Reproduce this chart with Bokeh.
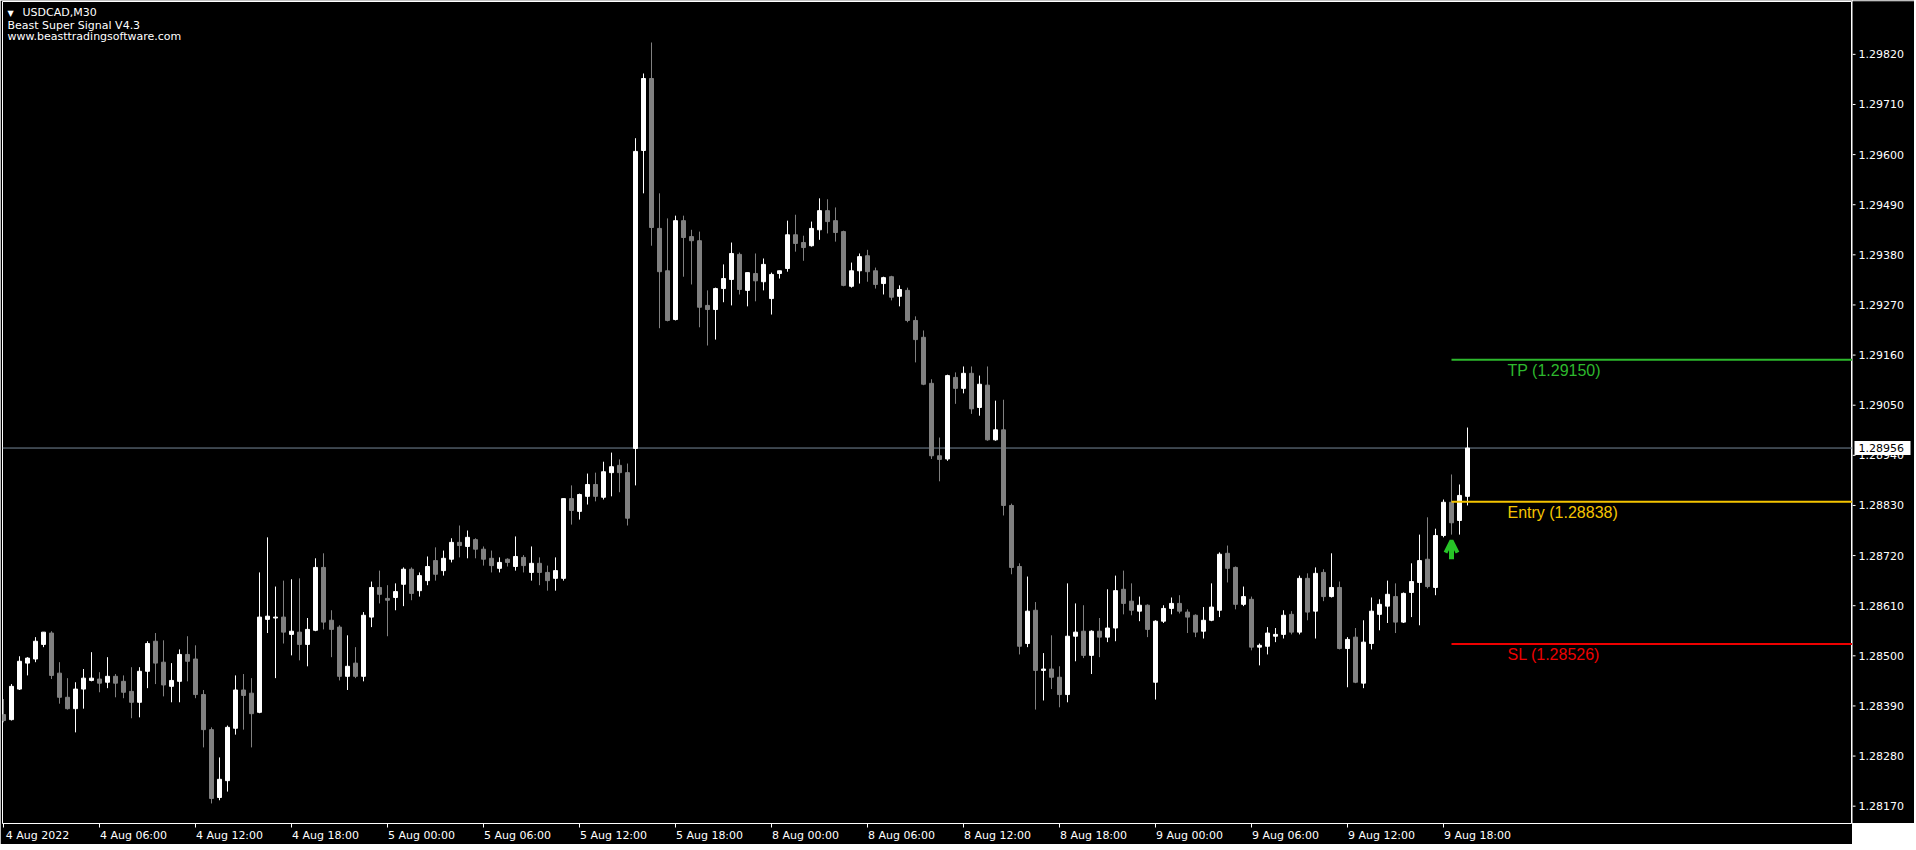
from bokeh.plotting import figure
from bokeh.layouts import row
from bokeh.models import (ColumnDataSource, Range1d, LinearAxis, FixedTicker,
                          Span, Arrow, OpenHead)
from bokeh.core.properties import value
from bokeh.embed import file_html
from bokeh.resources import INLINE

# ---------------- data ----------------
symbol_title = "USDCAD,M30"
indicator_name = "Beast Super Signal V4.3"
website = "www.beasttradingsoftware.com"

opens = [1.28371, 1.28360, 1.28427, 1.28484, 1.28493, 1.28525, 1.28550, 1.28462, 1.28409, 1.28384,
         1.28427, 1.28446, 1.28449, 1.28442, 1.28455, 1.28444, 1.28422, 1.28398, 1.28466, 1.28532,
         1.28486, 1.28433, 1.28444, 1.28503, 1.28493, 1.28415, 1.28338, 1.28189, 1.28226, 1.28341,
         1.28425, 1.28418, 1.28376, 1.28580, 1.28583, 1.28585, 1.28547, 1.28552, 1.28525, 1.28556,
         1.28694, 1.28578, 1.28563, 1.28455, 1.28484, 1.28455, 1.28585, 1.28650, 1.28626, 1.28628,
         1.28657, 1.28690, 1.28643, 1.28665, 1.28709, 1.28687, 1.28712, 1.28749, 1.28740, 1.28755,
         1.28734, 1.28714, 1.28692, 1.28712, 1.28696, 1.28716, 1.28683, 1.28703, 1.28683, 1.28670,
         1.28670, 1.28845, 1.28817, 1.28850, 1.28876, 1.28848, 1.28902, 1.28918, 1.28902, 1.28955,
         1.29609, 1.29767, 1.29438, 1.29345, 1.29238, 1.29455, 1.29420, 1.29411, 1.29269, 1.29260,
         1.29306, 1.29326, 1.29381, 1.29302, 1.29339, 1.29321, 1.29284, 1.29339, 1.29350, 1.29424,
         1.29407, 1.29400, 1.29435, 1.29477, 1.29455, 1.29431, 1.29311, 1.29345, 1.29378, 1.29345,
         1.29317, 1.29332, 1.29289, 1.29302, 1.29236, 1.29199, 1.29098, 1.28939, 1.28932, 1.29111,
         1.29087, 1.29120, 1.29045, 1.29094, 1.28974, 1.28996, 1.28830, 1.28696, 1.28527, 1.28600,
         1.28468, 1.28471, 1.28453, 1.28415, 1.28543, 1.28554, 1.28501, 1.28554, 1.28541, 1.28561,
         1.28646, 1.28620, 1.28598, 1.28611, 1.28442, 1.28576, 1.28604, 1.28615, 1.28596, 1.28589,
         1.28554, 1.28578, 1.28600, 1.28725, 1.28694, 1.28613, 1.28624, 1.28519, 1.28521, 1.28543,
         1.28547, 1.28591, 1.28552, 1.28670, 1.28598, 1.28683, 1.28630, 1.28650, 1.28516, 1.28541,
         1.28440, 1.28527, 1.28591, 1.28609, 1.28630, 1.28574, 1.28639, 1.28661, 1.28712, 1.28650,
         1.28764, 1.28837, 1.28797, 1.28850]
highs = [1.28405, 1.28438, 1.28499, 1.28497, 1.28541, 1.28552, 1.28554, 1.28486, 1.28451, 1.28442,
         1.28471, 1.28508, 1.28464, 1.28497, 1.28460, 1.28457, 1.28475, 1.28475, 1.28532, 1.28550,
         1.28534, 1.28484, 1.28514, 1.28543, 1.28523, 1.28425, 1.28343, 1.28277, 1.28347, 1.28457,
         1.28460, 1.28451, 1.28683, 1.28760, 1.28652, 1.28665, 1.28668, 1.28670, 1.28583, 1.28714,
         1.28725, 1.28600, 1.28567, 1.28545, 1.28519, 1.28596, 1.28663, 1.28687, 1.28655, 1.28659,
         1.28694, 1.28694, 1.28683, 1.28718, 1.28738, 1.28731, 1.28758, 1.28786, 1.28775, 1.28758,
         1.28740, 1.28731, 1.28716, 1.28714, 1.28762, 1.28721, 1.28740, 1.28716, 1.28698, 1.28716,
         1.28845, 1.28874, 1.28856, 1.28900, 1.28902, 1.28926, 1.28946, 1.28931, 1.28922, 1.29636,
         1.29778, 1.29846, 1.29515, 1.29460, 1.29466, 1.29466, 1.29435, 1.29431, 1.29302, 1.29308,
         1.29359, 1.29407, 1.29385, 1.29341, 1.29383, 1.29372, 1.29341, 1.29345, 1.29455, 1.29468,
         1.29422, 1.29453, 1.29504, 1.29502, 1.29484, 1.29433, 1.29363, 1.29383, 1.29391, 1.29352,
         1.29332, 1.29334, 1.29313, 1.29308, 1.29245, 1.29214, 1.29107, 1.28979, 1.29117, 1.29122,
         1.29135, 1.29135, 1.29115, 1.29135, 1.29060, 1.29062, 1.28834, 1.28703, 1.28674, 1.28618,
         1.28506, 1.28545, 1.28477, 1.28659, 1.28615, 1.28611, 1.28556, 1.28583, 1.28646, 1.28676,
         1.28687, 1.28659, 1.28630, 1.28613, 1.28578, 1.28611, 1.28628, 1.28633, 1.28602, 1.28591,
         1.28607, 1.28659, 1.28727, 1.28742, 1.28696, 1.28652, 1.28630, 1.28527, 1.28563, 1.28561,
         1.28600, 1.28598, 1.28676, 1.28681, 1.28694, 1.28690, 1.28725, 1.28663, 1.28541, 1.28561,
         1.28578, 1.28628, 1.28624, 1.28665, 1.28659, 1.28639, 1.28703, 1.28766, 1.28804, 1.28779,
         1.28843, 1.28898, 1.28876, 1.29001]
lows = [1.28354, 1.28358, 1.28425, 1.28457, 1.28486, 1.28519, 1.28449, 1.28395, 1.28382, 1.28332,
        1.28384, 1.28444, 1.28420, 1.28429, 1.28409, 1.28407, 1.28363, 1.28365, 1.28429, 1.28438,
        1.28411, 1.28398, 1.28398, 1.28444, 1.28407, 1.28299, 1.28176, 1.28183, 1.28202, 1.28327,
        1.28338, 1.28299, 1.28374, 1.28550, 1.28451, 1.28527, 1.28501, 1.28490, 1.28477, 1.28554,
        1.28558, 1.28497, 1.28446, 1.28425, 1.28451, 1.28444, 1.28563, 1.28615, 1.28543, 1.28600,
        1.28609, 1.28622, 1.28630, 1.28655, 1.28665, 1.28676, 1.28705, 1.28716, 1.28714, 1.28714,
        1.28698, 1.28683, 1.28683, 1.28696, 1.28687, 1.28683, 1.28665, 1.28655, 1.28643, 1.28643,
        1.28665, 1.28788, 1.28799, 1.28832, 1.28839, 1.28843, 1.28850, 1.28859, 1.28786, 1.28874,
        1.29515, 1.29400, 1.29219, 1.29234, 1.29236, 1.29332, 1.29315, 1.29221, 1.29181, 1.29194,
        1.29276, 1.29269, 1.29293, 1.29267, 1.29278, 1.29302, 1.29249, 1.29328, 1.29343, 1.29387,
        1.29367, 1.29398, 1.29413, 1.29427, 1.29409, 1.29311, 1.29308, 1.29317, 1.29321, 1.29306,
        1.29293, 1.29280, 1.29267, 1.29232, 1.29144, 1.29094, 1.28932, 1.28883, 1.28928, 1.29053,
        1.29076, 1.29031, 1.29027, 1.28972, 1.28972, 1.28808, 1.28679, 1.28503, 1.28519, 1.28382,
        1.28402, 1.28427, 1.28387, 1.28398, 1.28488, 1.28495, 1.28460, 1.28497, 1.28530, 1.28532,
        1.28591, 1.28589, 1.28576, 1.28541, 1.28404, 1.28572, 1.28591, 1.28593, 1.28550, 1.28541,
        1.28538, 1.28576, 1.28585, 1.28661, 1.28602, 1.28609, 1.28512, 1.28479, 1.28503, 1.28530,
        1.28538, 1.28547, 1.28547, 1.28578, 1.28538, 1.28620, 1.28628, 1.28514, 1.28431, 1.28440,
        1.28429, 1.28514, 1.28556, 1.28572, 1.28550, 1.28572, 1.28585, 1.28567, 1.28648, 1.28633,
        1.28760, 1.28766, 1.28766, 1.28830]
closes = [1.28358, 1.28433, 1.28488, 1.28495, 1.28532, 1.28552, 1.28457, 1.28409, 1.28384, 1.28427,
          1.28451, 1.28451, 1.28440, 1.28455, 1.28440, 1.28420, 1.28398, 1.28466, 1.28527, 1.28484,
          1.28436, 1.28446, 1.28503, 1.28488, 1.28415, 1.28338, 1.28187, 1.28229, 1.28343, 1.28425,
          1.28413, 1.28373, 1.28585, 1.28587, 1.28585, 1.28552, 1.28554, 1.28525, 1.28558, 1.28694,
          1.28574, 1.28558, 1.28455, 1.28477, 1.28455, 1.28589, 1.28650, 1.28635, 1.28622, 1.28641,
          1.28690, 1.28637, 1.28676, 1.28696, 1.28679, 1.28714, 1.28749, 1.28742, 1.28760, 1.28734,
          1.28712, 1.28698, 1.28705, 1.28705, 1.28718, 1.28698, 1.28703, 1.28683, 1.28665, 1.28687,
          1.28845, 1.28819, 1.28854, 1.28876, 1.28850, 1.28904, 1.28915, 1.28902, 1.28802, 1.29607,
          1.29767, 1.29440, 1.29343, 1.29236, 1.29455, 1.29418, 1.29411, 1.29265, 1.29260, 1.29306,
          1.29328, 1.29383, 1.29304, 1.29341, 1.29323, 1.29359, 1.29337, 1.29345, 1.29424, 1.29405,
          1.29396, 1.29438, 1.29477, 1.29453, 1.29429, 1.29313, 1.29345, 1.29376, 1.29343, 1.29315,
          1.29330, 1.29287, 1.29304, 1.29236, 1.29194, 1.29096, 1.28939, 1.28931, 1.29115, 1.29087,
          1.29120, 1.29042, 1.29096, 1.28974, 1.28996, 1.28830, 1.28694, 1.28521, 1.28598, 1.28468,
          1.28471, 1.28453, 1.28415, 1.28543, 1.28552, 1.28501, 1.28554, 1.28541, 1.28561, 1.28643,
          1.28615, 1.28600, 1.28611, 1.28558, 1.28576, 1.28604, 1.28615, 1.28598, 1.28585, 1.28552,
          1.28578, 1.28607, 1.28723, 1.28692, 1.28613, 1.28630, 1.28519, 1.28523, 1.28550, 1.28547,
          1.28589, 1.28552, 1.28670, 1.28596, 1.28681, 1.28630, 1.28650, 1.28516, 1.28536, 1.28442,
          1.28530, 1.28598, 1.28613, 1.28635, 1.28574, 1.28637, 1.28663, 1.28709, 1.28652, 1.28764,
          1.28837, 1.28792, 1.28852, 1.28956]

time_labels = ["4 Aug 2022", "4 Aug 06:00", "4 Aug 12:00", "4 Aug 18:00",
               "5 Aug 00:00", "5 Aug 06:00", "5 Aug 12:00", "5 Aug 18:00",
               "8 Aug 00:00", "8 Aug 06:00", "8 Aug 12:00", "8 Aug 18:00",
               "9 Aug 00:00", "9 Aug 06:00", "9 Aug 12:00", "9 Aug 18:00"]
time_label_bars = [0, 12, 24, 36, 48, 60, 72, 84, 96, 108, 120, 132, 144, 156, 168, 180]
price_ticks = [1.28170, 1.28280, 1.28390, 1.28500, 1.28610, 1.28720, 1.28830, 1.28940,
               1.29050, 1.29160, 1.29270, 1.29380, 1.29490, 1.29600, 1.29710, 1.29820]

bid_price = 1.28956
tp_price = 1.29150
entry_price = 1.28838
sl_price = 1.28526
signal_bar = 181
signal_arrow_top = 1.28753
signal_arrow_base = 1.28712

# ---------------- styling / layout ----------------
FONT = "DejaVu Sans"
BULL = "#ffffff"
BEAR = "#808080"
GREEN = "#2db82d"
GOLD = "#f5c400"
RED = "#ee0000"
ARROW_GREEN = "#27c427"
FRAME_W, FRAME_H = 1850, 822
SCALE_W = 62                      # width of the price-scale strip on the right
X_LO, X_HI = -0.125, 231.125
Y_LO, Y_HI = 1.28132, 1.29936
LABEL_SHIFT = 4.25                # bars: time labels sit to the right of their tick, MT4 style

n = len(opens)
xs = list(range(n))
colors = [BULL if c >= o else BEAR for o, c in zip(opens, closes)]
src = ColumnDataSource(dict(
    x=xs, h=highs, l=lows,
    top=[max(o, c) for o, c in zip(opens, closes)],
    bottom=[min(o, c) for o, c in zip(opens, closes)],
    color=colors))

p = figure(frame_width=FRAME_W, frame_height=FRAME_H, output_backend="svg", toolbar_location=None,
           x_range=Range1d(X_LO, X_HI), y_range=Range1d(Y_LO, Y_HI),
           x_axis_type=None, y_axis_type=None,
           background_fill_color="#000000", border_fill_color="#000000",
           min_border_left=2, min_border_top=1, min_border_right=0, min_border_bottom=0,
           outline_line_color="#ffffff", outline_line_width=1)

# bottom time axis: tick marks only
xt = LinearAxis(ticker=FixedTicker(ticks=time_label_bars),
                major_label_overrides={t: "" for t in time_label_bars})
xt.axis_line_color = None
xt.major_tick_line_color = "#ffffff"
xt.major_tick_in = 0
xt.major_tick_out = 4
xt.minor_tick_line_color = None
xt.major_label_text_font_size = "1px"
xt.major_label_standoff = 0
p.add_layout(xt, "below")

# bottom time axis: labels, placed to the right of the ticks
label_pos = [t + LABEL_SHIFT for t in time_label_bars]
xl = LinearAxis(ticker=FixedTicker(ticks=label_pos),
                major_label_overrides={pos: lab for pos, lab in zip(label_pos, time_labels)})
xl.axis_line_color = None
xl.major_tick_line_color = None
xl.minor_tick_line_color = None
xl.major_tick_out = 0
xl.major_tick_in = 0
xl.major_label_text_color = "#ffffff"
xl.major_label_text_font = FONT
xl.major_label_text_font_size = "11px"
xl.major_label_standoff = 1
p.add_layout(xl, "below")

# bid line
p.add_layout(Span(location=bid_price, dimension="width", line_color="#778899",
                  line_width=1, level="underlay"))

# candles
p.segment(x0="x", y0="l", x1="x", y1="h", line_color="color", line_width=1, source=src)
p.vbar(x="x", width=0.5, top="top", bottom="bottom", fill_color="color",
       line_color="color", line_width=1, source=src)

# TP / Entry / SL levels
level_prices = [tp_price, entry_price, sl_price]
level_colors = [GREEN, GOLD, RED]
level_texts = [f"TP ({tp_price:.5f})", f"Entry ({entry_price:.5f})", f"SL ({sl_price:.5f})"]
p.ray(x=[signal_bar] * 3, y=level_prices, length=0, angle=0,
      line_color=level_colors, line_width=2)
p.text(x=[signal_bar + 7] * 3, y=level_prices, text=level_texts, text_color=level_colors,
       text_font=value("Liberation Sans"), text_font_size="16px",
       text_align="left", text_baseline="top", y_offset=2)

# signal arrow
p.add_layout(Arrow(end=OpenHead(size=12, line_color=ARROW_GREEN, line_width=4),
                   x_start=signal_bar, y_start=signal_arrow_base,
                   x_end=signal_bar, y_end=signal_arrow_top,
                   line_color=ARROW_GREEN, line_width=5))

# top-left captions
p.text(x=[X_LO], y=[Y_HI], text=["\u25BC"], x_offset=5, y_offset=12,
       text_color="#ffffff", text_font=value(FONT), text_font_size="8px",
       text_baseline="middle", text_align="left")
p.text(x=[X_LO, X_LO, X_LO], y=[Y_HI] * 3,
       text=[symbol_title, indicator_name, website],
       x_offset=[20, 5, 5], y_offset=[11, 24, 35], text_color="#ffffff",
       text_font=value(FONT), text_font_size="11px", text_baseline="middle", text_align="left")

# ---------------- price scale strip (right) ----------------
ps = figure(frame_width=SCALE_W, frame_height=FRAME_H, output_backend="svg", toolbar_location=None,
            x_range=Range1d(0, SCALE_W), y_range=p.y_range,
            x_axis_type=None, y_axis_type=None,
            background_fill_color="#000000", border_fill_color="#000000",
            min_border_left=0, min_border_top=1, min_border_right=0, min_border_bottom=0,
            outline_line_color=None)
ps.segment(x0=[0] * len(price_ticks), x1=[3] * len(price_ticks), y0=price_ticks, y1=price_ticks,
           line_color="#ffffff", line_width=1)
ps.text(x=[6] * len(price_ticks), y=price_ticks, text=[f"{v:.5f}" for v in price_ticks],
        text_color="#ffffff", text_font=value(FONT), text_font_size="11px",
        text_baseline="middle", text_align="left")
# bid price box
ps.rect(x=[30], y=[bid_price], width=[56], height=[14], height_units="screen",
        fill_color="#ffffff", line_color=None)
ps.text(x=[6], y=[bid_price], text=[f"{bid_price:.5f}"], text_color="#000000",
        text_font=value(FONT), text_font_size="11px", text_baseline="middle", text_align="left")

layout = row(p, ps)
open("out.html", "w").write(file_html(layout, INLINE))
